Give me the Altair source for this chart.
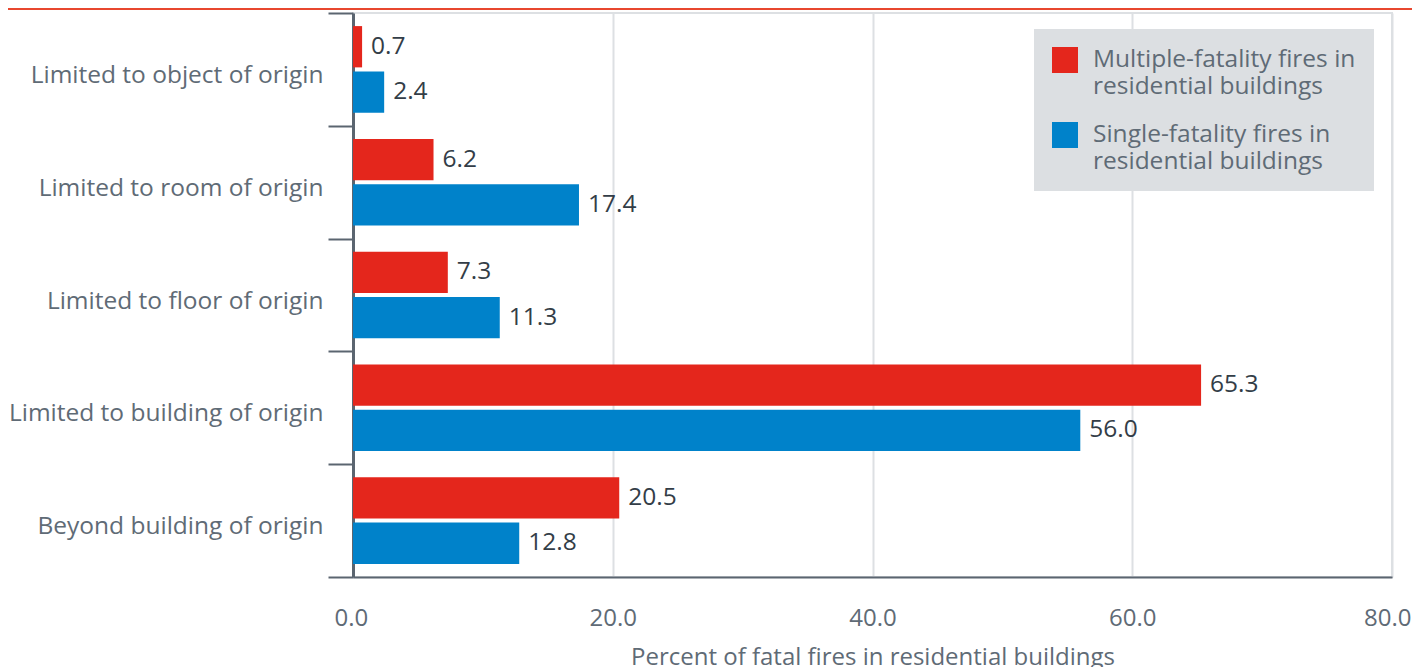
import altair as alt
import pandas as pd

categories = [
    "Limited to object of origin",
    "Limited to room of origin",
    "Limited to floor of origin",
    "Limited to building of origin",
    "Beyond building of origin",
]
multiple = [0.7, 6.2, 7.3, 65.3, 20.5]
single = [2.4, 17.4, 11.3, 56.0, 12.8]
series = [
    "Multiple-fatality fires in residential buildings",
    "Single-fatality fires in residential buildings",
]
colors = ["#e4261c", "#0082ca"]
x_ticks = [0, 20, 40, 60, 80]

rows = []
for c, m, s in zip(categories, multiple, single):
    rows.append({"category": c, "series": series[0], "value": m})
    rows.append({"category": c, "series": series[1], "value": s})
df = pd.DataFrame(rows)

FONT = "Open Sans"
FS = 24
FS2 = 24.5
LABEL = "#5f6b76"
AXIS = "#5b6570"
GRID = "#dde0e3"

y = alt.Y(
    "category:N",
    sort=categories,
    title=None,
    scale=alt.Scale(paddingInner=0, paddingOuter=0),
    axis=alt.Axis(
        tickBand="extent", tickSize=25, tickWidth=2, tickColor=AXIS,
        domainColor=AXIS, domainWidth=3, labelPadding=5, labelFontSize=FS2,
        labelColor=LABEL, labelFont=FONT, labelLimit=400, grid=False,
        labelOffset=6,
    ),
)
yoff = alt.YOffset(
    "series:N", sort=series,
    scale=alt.Scale(paddingInner=0.089, paddingOuter=0.289),
)
x = alt.X(
    "value:Q",
    scale=alt.Scale(domain=[0, 80], nice=False),
    title="Percent of fatal fires in residential buildings",
    axis=alt.Axis(
        values=x_ticks, format=".1f", ticks=False, domainColor=AXIS, domainWidth=2,
        gridColor=GRID, gridWidth=2, labelPadding=29, labelFontSize=FS,
        labelFlush=True, labelFlushOffset=19, labelColor=LABEL, labelFont=FONT,
        titleFont=FONT, titleFontSize=FS, titleColor=LABEL,
        titleFontWeight="normal", titlePadding=15,
    ),
)
color = alt.Color(
    "series:N", sort=series,
    scale=alt.Scale(domain=series, range=colors),
    legend=alt.Legend(
        orient="none", legendX=681, legendY=16, title=None,
        fillColor="#dcdfe2", padding=18, symbolType="square", symbolSize=676,
        symbolStrokeWidth=0, labelFontSize=FS2, labelColor=LABEL, labelFont=FONT,
        labelOffset=15, rowPadding=24, labelLimit=400,
        labelExpr="[replace(datum.label, ' residential buildings', ''), 'residential buildings']",
    ),
)

base = alt.Chart(df)
bars = base.mark_bar().encode(x=x, y=y, yOffset=yoff, color=color)
labels = base.mark_text(
    align="left", baseline="middle", dx=9, fontSize=FS2, font=FONT, color="#333d47"
).encode(
    x="value:Q", y=alt.Y("category:N", sort=categories), yOffset=yoff,
    text=alt.Text("value:Q", format=".1f"),
)
topline = alt.Chart(pd.DataFrame({"a": [0]})).mark_rule(
    color="#e8472f", strokeWidth=2
).encode(x=alt.value(-345), x2=alt.value(1059), y=alt.value(-4))

chart = alt.layer(topline, bars, labels).properties(
    width=1039, height=564,
    autosize=alt.AutoSizeParams(type="none"),
    padding={"left": 345, "top": 5, "right": 20, "bottom": 90},
).configure_view(stroke=GRID, strokeWidth=2)

chart.save("out.html", embed_options={"renderer": "svg", "actions": False})
